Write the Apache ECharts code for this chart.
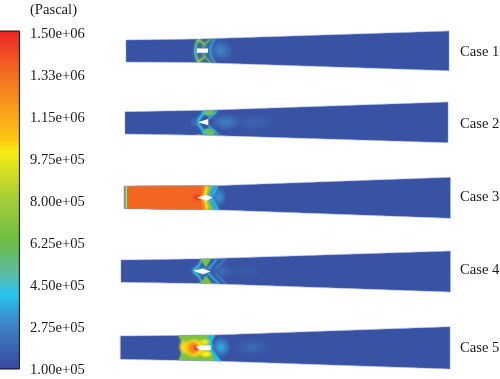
<!DOCTYPE html>
<html>
<head>
<meta charset="utf-8">
<style>html,body{margin:0;padding:0;background:#fff}#c{width:500px;height:379px;filter:blur(0.45px)}</style>
<script src="https://cdn.jsdelivr.net/npm/echarts@6/dist/echarts.min.js"></script>
</head>
<body>
<div id="c"></div>
<script>
// Colour scale
const tickLabels = ['1.50e+06','1.33e+06','1.15e+06','9.75e+05','8.00e+05','6.25e+05','4.50e+05','2.75e+05','1.00e+05'];
const rampPressures = [1.5e6,1.33e6,1.15e6,1.05e6,1.0e6,8.0e5,6.25e5,4.9e5,4.1e5,3.0e5,1.0e5];
const rampColors = ['#ee2524','#f26a22','#faa61a','#fdc80f','#f7ec13','#a4cd39','#6cbd45','#5cbbaa','#27c4f0','#3f8ac9','#37479d'];
const pMin = 1.0e5, pMax = 1.5e6;
const caseNames = ['Case 1','Case 2','Case 3','Case 4','Case 5'];

// Duct outlines, rows of [x, top y, bottom y]
const outline1 = [[126,40,62],[198,39,62.5],[449,31,70.7]];
const outline2 = [[125,111.7,134],[205,110.3,135.3],[448,102,142.7]];
const outline3 = [[124,186,208.7],[213,185.8,209.8],[450.5,177.3,218.3]];
const outline4 = [[121,260,282.3],[205,258.7,283.6],[450.5,251,292]];
const outline5 = [[120.3,336,359.3],[213,335,361],[450,326.7,369]];

// Pressure regions [pressure, [x,y]...], painted in order
const regions3 = [
  [3.6e5,[[122,184],[216,184],[210,197],[217,212],[122,212]]],
  [7.2e5,[[122,184],[212,184],[207,197],[213,212],[122,212]]],
  [1.0e6,[[122,184],[208.5,184],[205,197],[209,212],[122,212]]],
  [1.2e6,[[122,184],[206,184],[203,197],[206.5,212],[122,212]]],
  [1.34e6,[[127,184],[203,184],[201,197],[203,212],[127,212]]]
];
const inletStripes3 = [[124,125,3.5e5],[125,126,5.5e5],[126,127,9e5]];
const regions5 = [
  [3.9e5,[[205,333],[216,333],[212,341],[212.5,350],[217,356],[224,365],[200,365]]],
  [6.8e5,[[177,333],[210,333],[206,340],[209,350],[213,358],[217,365],[177,365],[181,355],[182.5,347],[181,340]]]
];

// Soft spots [x, y, radius x, radius y, pressure, solid core share]
const spots1 = [[221,50.5,12,11,2.9e5,0],[204,50.5,12,12,2.4e5,0],[197,50.5,3.5,4,8.5e5,0],[196.6,50.5,2,2.2,1.35e6,0.2]];
const spots2 = [[226,122,16,9,2.8e5,0],[255,122,22,9,1.9e5,0],[194,122.3,5,6,2.3e5,0],[209,112,8,5,6.6e5,0.6],[209,132.3,8,5,6.6e5,0.6],[199,135.2,3.5,1.4,8.6e5,0.2]];
const spots3 = [[219,197,8,11,3.2e5,0],[197,197.5,5,4.5,1.5e6,0],[209.5,186.2,3,2,7.2e5,0.3],[210,208.5,3.5,2,7.2e5,0.3]];
const spots4 = [[202,271,13,7,3.4e5,0],[222,271,11,9,2.1e5,0],[246,271,18,8,1.7e5,0]];
const spots5 = [[221,347,10,11,3.7e5,0],[252,347,18,9,2.1e5,0],[184,347,6,8,1.03e6,0.4],[194,348,12,10,1.03e6,0.65],[205,342,6,4,9.8e5,0.3],[206,354,7,4,1.0e6,0.4],[192,348,7,9,1.16e6,0.4],[194,348,6,6,1.28e6,0.4],[196.5,348,3.5,3.5,1.48e6,0.15]];

// Soft bands [pressure, width, [x,y]...]
const bands1 = [
  [3.4e5,1.8,[[216,38],[210,50],[216,64]]],
  [4.4e5,1.8,[[200,39],[195,50.5],[200,63]]],
  [6.4e5,1.4,[[198,39.5],[196,44],[196,47]]],
  [6.4e5,1.4,[[198,62],[196,57],[196,54]]],
  [6.2e5,1.6,[[211,39],[206,43],[203,48]]],
  [6.2e5,1.6,[[211,62.5],[206,58],[203,53]]],
  [8.0e5,1.6,[[198,40],[201,41.5],[204,44]]],
  [8.0e5,1.6,[[198,61.5],[201,60],[204,57]]]
];
const bands2 = [
  [4.0e5,2.6,[[198,120.5],[202,115],[206,110]]],
  [4.0e5,2.6,[[198,124],[202,129],[206,135]]],
  [3.6e5,2.2,[[209,118],[214,114],[217,110]]],
  [3.6e5,2.2,[[209,126.5],[214,131],[219,136]]]
];
const bands3 = [
  [4.0e5,2,[[212,196],[215,191],[217,185]]],
  [4.0e5,2,[[212,199],[215,204],[218,210]]]
];
const bands4 = [
  [4.4e5,1.8,[[194,269.5],[199,265],[201,261]]],
  [4.4e5,1.8,[[194,272],[199,277],[201,281]]],
  [3.7e5,1.8,[[209,268],[213,264],[217,258]]],
  [3.7e5,1.8,[[209,274],[214,279],[219,284]]],
  [2.7e5,1.6,[[216,268],[222,262],[226,258]]],
  [2.7e5,1.6,[[216,274],[222,280],[226,284]]]
];
const bands5 = [];

// Green wedges of case 4 [pressure, [x,y]...]
const wedges4 = [
  [6.6e5,[[199,257],[212,257],[206,267]]],
  [6.6e5,[[199,285],[213,285],[206,276]]]
];

// Solid body outlines
const body1 = [[197,48.4],[208,48.4],[208,52.8],[197,52.8]];
const body2 = [[197.5,122.3],[208.3,119],[208.3,125.3]];
const body3 = [[196.5,197.6],[206.7,195],[212.7,197.6],[206.7,200.8]];
const body4 = [[193,270.8],[203,268.6],[210.7,271.4],[203,274.2]];
const body5 = [[196,347.6],[198,345.6],[210.7,345.3],[210.7,350.3],[201,350.3]];

const outlines = [outline1,outline2,outline3,outline4,outline5];
const spots = [spots1,spots2,spots3,spots4,spots5];
const bands = [bands1,bands2,bands3,bands4,bands5];
const regions = [[],[],regions3,[],regions5];
const wedges = [[],[],[],wedges4,[]];
const bodies = [body1,body2,body3,body4,body5];
const labelYs = [52,124.4,197.4,270.4,348];
const labelX = 460;
const barX = [-1,19.4], barY = [31,369];

function pColor(p){
  for(let i=0;i<rampPressures.length-1;i++){
    const a=rampPressures[i],b=rampPressures[i+1];
    if(p<=a&&p>=b) return echarts.color.lerp((a-p)/(a-b),[rampColors[i],rampColors[i+1]]);
  }
  return rampColors[rampColors.length-1];
}
function alpha(c,a){return echarts.color.modifyAlpha(c,a);}
const barStops = rampPressures.map((p,i)=>({offset:(pMax-p)/(pMax-pMin),color:rampColors[i]}));
const serif = '"Liberation Serif","Times New Roman",serif';

function renderCase(params,api){
  const i = api.value(0);
  const pt = q=>api.coord(q);
  const row = outlines[i];
  const ring = row.map(r=>pt([r[0],r[1]])).concat(row.slice().reverse().map(r=>pt([r[0],r[2]])));
  const inside = [];
  inside.push({type:'polygon',shape:{points:ring},style:{fill:'#3853a4'}});
  regions[i].forEach(r=>{
    const c=pColor(r[0]);
    inside.push({type:'polygon',shape:{points:r[1].map(pt)},style:{fill:c,shadowBlur:2.5,shadowColor:c}});
  });
  if(i===2) inletStripes3.forEach(s=>{
    const a=pt([s[0],180]),b=pt([s[1],215]);
    inside.push({type:'rect',shape:{x:a[0],y:a[1],width:b[0]-a[0],height:b[1]-a[1]},style:{fill:pColor(s[2])}});
  });
  spots[i].forEach(s=>{
    const c=pColor(s[4]),o=pt([s[0],s[1]]),e=pt([s[0]+s[2],s[1]+s[3]]);
    inside.push({type:'circle',x:o[0],y:o[1],scaleX:(e[0]-o[0])/10,scaleY:(e[1]-o[1])/10,
      shape:{cx:0,cy:0,r:10},
      style:{fill:{type:'radial',x:.5,y:.5,r:.5,colorStops:[
        {offset:0,color:c},{offset:Math.max(s[5],0.01),color:c},{offset:1,color:alpha(c,0)}]}}});
  });
  bands[i].forEach(b=>{
    const c=pColor(b[0]);
    inside.push({type:'polyline',shape:{points:b[2].map(pt),smooth:0.5},
      style:{fill:null,stroke:alpha(c,0.75),lineWidth:b[1],lineCap:'round',shadowBlur:3,shadowColor:c}});
  });
  wedges[i].forEach(r=>{
    const c=pColor(r[0]);
    inside.push({type:'polygon',shape:{points:r[1].map(pt)},style:{fill:c,shadowBlur:2,shadowColor:c}});
  });
  inside.push({type:'polygon',shape:{points:bodies[i].map(pt)},style:{fill:'#fff'}});
  const lab=pt([labelX,labelYs[i]]);
  return {type:'group',children:[
    {type:'group',clipPath:{type:'polygon',shape:{points:ring}},children:inside},
    {type:'polygon',shape:{points:ring},style:{fill:null,stroke:'rgba(140,150,220,0.75)',lineWidth:0.7}},
    {type:'text',x:lab[0],y:lab[1],style:{text:caseNames[i],fontFamily:serif,fontSize:14.6,fill:'#1a1a1a',textAlign:'left',textVerticalAlign:'middle'}}
  ]};
}
function renderBar(params,api){
  const a=api.coord([barX[0],barY[0]]),b=api.coord([barX[1],barY[1]]);
  return {type:'rect',shape:{x:a[0],y:a[1],width:b[0]-a[0],height:b[1]-a[1]},
    style:{stroke:'#111',lineWidth:1,fill:{type:'linear',x:0,y:0,x2:0,y2:1,colorStops:barStops}}};
}

const chart = echarts.init(document.getElementById('c'),null,{renderer:'canvas'});
chart.setOption({
  animation:false,
  backgroundColor:'#fff',
  title:{text:'(Pascal)',left:30,top:3,padding:0,textStyle:{fontFamily:serif,fontSize:14.6,fontWeight:'normal',color:'#1a1a1a'}},
  grid:[{left:0,top:0,width:500,height:379},{left:0,top:34,width:19,height:336}],
  xAxis:[
    {gridIndex:0,type:'value',min:0,max:500,show:false},
    {gridIndex:1,type:'value',min:0,max:1,show:false}
  ],
  yAxis:[
    {gridIndex:0,type:'value',min:0,max:379,inverse:true,show:false},
    {gridIndex:1,type:'category',data:tickLabels,inverse:true,position:'right',boundaryGap:false,
     axisLine:{show:false},axisTick:{show:false},splitLine:{show:false},
     axisLabel:{show:true,interval:0,margin:11,hideOverlap:false,fontFamily:serif,fontSize:14.6,color:'#1a1a1a',align:'left'}}
  ],
  series:[
    {type:'custom',coordinateSystem:'cartesian2d',xAxisIndex:0,yAxisIndex:0,clip:false,silent:true,data:[[0]],renderItem:renderBar},
    {type:'custom',coordinateSystem:'cartesian2d',xAxisIndex:0,yAxisIndex:0,clip:false,silent:true,data:[[0],[1],[2],[3],[4]],renderItem:renderCase}
  ]
});
</script>
</body>
</html>
